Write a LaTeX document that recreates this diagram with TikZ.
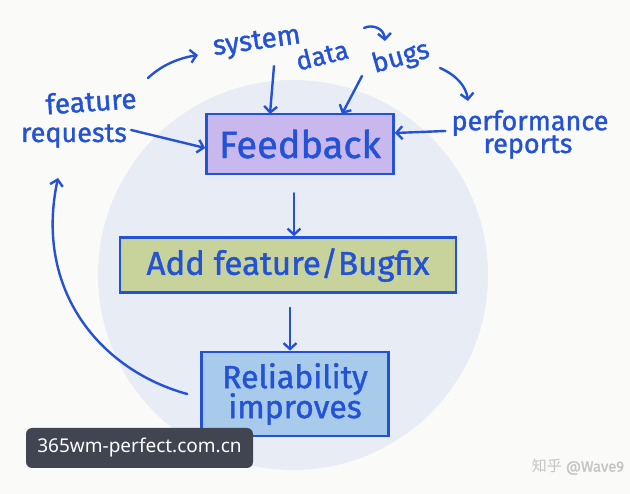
\documentclass[tikz,border=0pt]{standalone}
\usepackage{fontspec}
\setmainfont{Fira Sans}[FakeBold=1.2]
\newfontfamily\wmfont{Noto Sans}
\newfontfamily\cjkfont{Noto Sans CJK SC}
\usetikzlibrary{arrows.meta}
\definecolor{ink}{HTML}{2352D6}
\definecolor{bgpaper}{HTML}{FAFAF8}
\definecolor{bubble}{HTML}{E8ECF4}
\definecolor{fbfill}{HTML}{C9B8EE}
\definecolor{addfill}{HTML}{C7D39A}
\definecolor{relfill}{HTML}{A9CBEB}
\definecolor{wmbg}{HTML}{414552}
\definecolor{wmgrey}{HTML}{C4C4C4}
\tikzset{
  boxnode/.style={draw=ink, line width=2.6pt, text=ink, inner sep=0pt, align=center},
  lbl/.style={text=ink, inner sep=0pt, align=center},
  arr/.style={draw=ink, line width=2.4pt, line cap=round, -{Straight Barb[length=6pt,width=13pt,line width=2.4pt]}},
}
\newcommand{\fsz}[1]{\fontsize{#1}{#1}\selectfont}
\begin{document}
\begin{tikzpicture}[x=1pt,y=-1pt]
\fill[bgpaper] (0,0) rectangle (630,494);
\useasboundingbox (0,0) rectangle (630,494);
\fill[bubble] (293,275) circle[radius=195];

% boxes
\node[boxnode, fill=fbfill, minimum width=187pt, minimum height=60pt, font=\fsz{38}] (fb) at (300,144) {Feedback};
\node[boxnode, fill=addfill, minimum width=336pt, minimum height=55pt, font=\fsz{33}] (add) at (288,265) {Add feature/Bugfix};
\node[boxnode, fill=relfill, minimum width=187pt, minimum height=84pt, font=\fsz{32}, align=center] (rel) at (295,394) {\fsz{32}Reliability\\[-2pt]\fsz{32}improves};

% labels
\node[lbl, font=\fsz{28}, rotate=4] (feat) at (91,101) {feature};
\node[lbl, font=\fsz{27}] (req) at (74,136) {requests};
\node[lbl, font=\fsz{28}, rotate=8] (sys) at (257,43) {system};
\node[lbl, font=\fsz{26}, rotate=14] (data) at (322,55) {data};
\node[lbl, font=\fsz{27}, rotate=16] (bugs) at (401,58) {bugs};
\node[lbl, font=\fsz{27}] (perf) at (530,123) {performance};
\node[lbl, font=\fsz{27}] (rep) at (528,147) {reports};

\coordinate (c1) at (364,28);
\coordinate (c2) at (385,41);

% arrows into feedback
\draw[arr] (req.east) ++(4,-6) coordinate (rq) (rq) -- (fb.west |- 0,148);
\draw[arr] (274,66) -- (270,114);
\draw[arr] (362,76) -- (342,114);
\draw[arr] (perf.west) ++(-6,8) coordinate (pw) (pw) -- (fb.east |- 0,133);

% arrows along the top
\draw[arr] (148,78) .. controls (163,64) and (180,58) .. (198,55);
\draw[arr] (c1) .. controls (372,24) and (384,28) .. (c2);
\draw[arr] (440,68) .. controls (456,75) and (466,86) .. (468,101);

% main flow
\draw[arr] (fb.south) ++(-6,18) coordinate (a1) (a1) -- (add.north -| a1);
\draw[arr] (add.south) ++(2,14) coordinate (a2) (a2) -- (rel.north -| a2);

% loop back
\draw[arr] (rel.west) ++(-13,0) coordinate (lb) (lb) .. controls (100,370) and (34,290) .. (58,178);

% watermark
\node[fill=wmbg, rounded corners=6pt, minimum width=227pt, minimum height=40pt, inner sep=0pt, text=white, font=\wmfont\fsz{19}] (wm) at (139.5,448) {365wm-perfect.com.cn};
\node[text=wmgrey, inner sep=0pt, font=\fsz{15}] (zh) at (578,467) {{\cjkfont 知乎} @Wave9};
\end{tikzpicture}
\end{document}
